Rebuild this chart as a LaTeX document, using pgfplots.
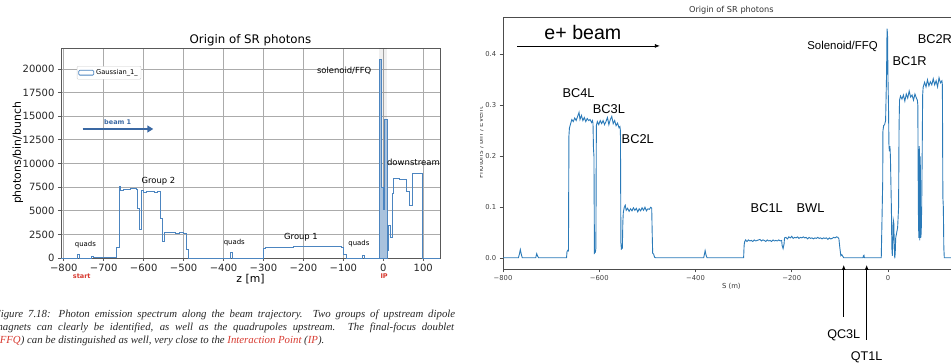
\documentclass[border=0pt]{standalone}
\usepackage{fontspec}
\setmainfont{DejaVu Sans}
\newfontfamily\arial{Liberation Sans}
\newfontfamily\capfont{Liberation Serif}
\usepackage{pgfplots}
\pgfplotsset{compat=1.18}
\usetikzlibrary{arrows.meta}
\definecolor{mplblue}{HTML}{2A7AB8}
\definecolor{histblue}{HTML}{4C85C0}
\definecolor{spikefill}{HTML}{A9C2DD}
\definecolor{beamblue}{HTML}{3A68A3}
\definecolor{linkred}{HTML}{D7392F}
\begin{document}
\begin{tikzpicture}
\useasboundingbox (0,0) rectangle (951pt,363pt);
\clip (0,0) rectangle (951pt,363pt);
% ---------------- left chart ----------------
\begin{axis}[
  at={(61pt,105pt)}, anchor=south west, scale only axis,
  width=379pt, height=210pt,
  xmin=-807, xmax=142, ymin=0, ymax=22220,
  scaled ticks=false,
  xtick={-800,-700,...,100},
  xticklabels={−800,−700,−600,−500,−400,−300,−200,−100,0,100},
  ytick={0,2500,...,20000},
  yticklabels={0,2500,5000,7500,10000,12500,15000,17500,20000},
  grid=major, grid style={color=black!33, line width=0.9pt},
  axis line style={black!65, line width=0.9pt},
  tick style={black!65, line width=0.8pt}, major tick length=3pt, tick align=outside,
  xtick pos=bottom, ytick pos=left,
  ticklabel style={font=\fontsize{10}{12}\selectfont, text=black!85},
  title={Origin of SR photons},
  title style={font=\fontsize{11.8}{13}\selectfont, at={(axis description cs:0.5,1)}, anchor=base, yshift=-2pt},
  xlabel={z [m]},
  xlabel style={font=\fontsize{10.8}{13}\selectfont, at={(axis description cs:0.5,0)}, anchor=base, yshift=-24.5pt},
  ylabel={photons/bin/bunch},
  ylabel style={font=\fontsize{10.9}{13}\selectfont, at={(axis description cs:-0.1135,0.5)}, anchor=center},
  clip=false,
  legend style={at={(axis description cs:0.042,0.914)}, anchor=north west,
    font=\fontsize{6.7}{8}\selectfont, draw=black!20, inner sep=1.2pt, rounded corners=1pt},
  legend image code/.code={\draw[#1] (0pt,-2.4pt) rectangle (15pt,2.4pt);},
]
\fill[black, opacity=0.06] (axis cs:-12,0) rectangle (axis cs:10,22220);
\addplot[const plot mark left, histblue, line width=0.8pt, forget plot] coordinates {
(-807,0) (-767,350) (-761,0) (-731,220) (-726,100) (-700,80) (-668,1100)
(-662,7550) (-658,7200) (-650,7250) (-640,7300) (-632,7400) (-626,7320) (-619,7250)
(-615,5300) (-611,3000) (-605,7100) (-600,6950) (-592,7000) (-582,7050) (-572,6980) (-566,7000)
(-559,4200) (-554,1800) (-549,2750) (-540,2700) (-530,2750) (-520,2650) (-510,2680) (-500,2600)
(-493,900) (-488,0) (-382,600) (-377,0)
(-300,1050) (-296,1100) (-280,1080) (-265,1120) (-250,1100) (-240,1150) (-225,1180) (-215,1250)
(-210,1200) (-195,1220) (-185,1270) (-178,1220) (-160,1230) (-145,1250) (-130,1200) (-115,1220)
(-104,1150) (-100,400) (-93,0) (-53,320) (-48,0)
(-10,21000) (-4,7500) (0,5200) (3,14700) (9,800) (13,3400) (18,2150) (22,6800)
(26,8450) (40,8350) (50,8300) (58,7050) (66,5600) (72,9000) (85,8950) (92,8900) (98,0) (142,0)
};
\addplot[const plot mark left, fill=spikefill, draw=histblue, line width=0.6pt, forget plot] coordinates {
(-10,21000) (-4,7500) (0,5200) (3,14700) (9,0)
} \closedcycle;
\addlegendimage{draw=histblue, fill=white, line width=0.8pt}
\addlegendentry{Gaussian\_1\_}
\draw[beamblue, line width=2.5pt, -{Triangle[length=6pt,width=7pt]}] (axis cs:-753,13650) -- (axis cs:-576,13650);
\node[beamblue, font=\fontsize{6.5}{8}\selectfont\bfseries] at (axis cs:-665,14390) {beam 1};
\node[font=\fontsize{6.9}{8}\selectfont] at (axis cs:-746,1376) {quads};
\node[font=\fontsize{6.9}{8}\selectfont] at (axis cs:-373,1587) {quads};
\node[font=\fontsize{6.9}{8}\selectfont] at (axis cs:-61,1481) {quads};
\node[font=\fontsize{8.4}{10}\selectfont] at (axis cs:-563,8148) {Group 2};
\node[font=\fontsize{8.4}{10}\selectfont] at (axis cs:-206,2222) {Group 1};
\node[font=\fontsize{8.4}{10}\selectfont] at (axis cs:-98,19788) {solenoid/FFQ};
\node[font=\fontsize{8.5}{10}\selectfont, anchor=west, inner sep=0pt] at (axis cs:9,10160) {downstream};
\node[linkred, font=\fontsize{6.5}{8}\selectfont\bfseries] at (axis cs:-755,-1900) {start};
\node[linkred, font=\fontsize{6.5}{8}\selectfont\bfseries] at (axis cs:2,-1900) {IP};
\end{axis}
% ---------------- right chart ----------------
\begin{scope}
\clip (480pt,0pt) rectangle (951pt,363pt);
\begin{axis}[
  at={(503pt,94pt)}, anchor=south west, scale only axis,
  width=456.7pt, height=252pt,
  xmin=-800, xmax=149, ymin=-0.021, ymax=0.473,
  scaled ticks=false,
  xtick={-800,-600,-400,-200,0}, xticklabels={−800,−600,−400,−200,0},
  ytick={0,0.1,0.2,0.3,0.4}, yticklabels={0.0,0.1,0.2,0.3,0.4},
  axis line style={black!70, line width=0.6pt},
  tick style={black!70, line width=0.6pt}, tick align=outside, major tick length=3.3pt,
  xtick pos=bottom, ytick pos=left,
  ticklabel style={font=\fontsize{6.8}{8}\selectfont, text=black!75},
  title={Origin of SR photons},
  title style={font=\fontsize{8.2}{10}\selectfont, text=black!80, at={(axis description cs:0.5,1)}, anchor=base, yshift=-1.7pt},
  xlabel={S (m)},
  xlabel style={font=\fontsize{6.9}{8}\selectfont, text=black!80, at={(axis description cs:0.5,0)}, anchor=base, yshift=-20pt},
  ylabel={Photons / bin / Event},
  ylabel style={font=\fontsize{6.9}{8}\selectfont, text=black!80, at={(axis description cs:-0.044,0.5)}, anchor=base},
  clip=false,
]
\addplot[mplblue, line width=0.9pt] coordinates {
(-800,0.001) (-768,0.001) (-766,0.008) (-764,0.017) (-762,0.008) (-760,0.001) (-732,0.001) (-730,0.009) (-728,0.004) (-726,0.001)
(-668,0.001) (-667,0.013) (-665,0.016) (-664,0.015) (-663,0.24) (-662,0.255) (-660,0.262) (-657,0.272) (-654,0.268) (-651,0.275)
(-648,0.27) (-645,0.278) (-642,0.286) (-640,0.272) (-637,0.28) (-634,0.27) (-631,0.276) (-628,0.268) (-625,0.274) (-622,0.27)
(-619,0.272) (-616,0.266) (-614,0.27) (-613,0.265) (-612,0.215) (-611,0.2) (-610,0.01) (-608,0.012) (-607,0.02) (-606,0.26)
(-604,0.268) (-601,0.262) (-598,0.27) (-595,0.264) (-592,0.27) (-589,0.262) (-586,0.268) (-583,0.276) (-580,0.262) (-577,0.272)
(-574,0.278) (-571,0.264) (-568,0.27) (-565,0.26) (-562,0.265) (-559,0.256) (-557,0.258) (-556,0.25) (-555,0.03) (-554,0.018)
(-552,0.02) (-551,0.07) (-550,0.09) (-548,0.1) (-546,0.104) (-544,0.094) (-541,0.098) (-538,0.092) (-535,0.097) (-532,0.093)
(-529,0.099) (-526,0.094) (-523,0.098) (-520,0.091) (-517,0.097) (-514,0.093) (-511,0.099) (-508,0.094) (-505,0.1) (-502,0.093)
(-499,0.097) (-496,0.096) (-493,0.1) (-491,0.098) (-490,0.05) (-489,0.01) (-487,0.008) (-485,0.002) (-483,0.001)
(-383,0.001) (-381,0.01) (-380,0.015) (-378,0.006) (-376,0.001)
(-300,0.001) (-299,0.025) (-298,0.032) (-296,0.036) (-293,0.033) (-290,0.036) (-287,0.034) (-284,0.035) (-281,0.033) (-278,0.036)
(-275,0.034) (-272,0.035) (-269,0.036) (-266,0.037) (-263,0.034) (-260,0.036) (-257,0.035) (-254,0.033) (-251,0.036) (-248,0.034)
(-245,0.035) (-242,0.033) (-239,0.036) (-236,0.034) (-233,0.035) (-230,0.034) (-227,0.036) (-224,0.034) (-221,0.035) (-220,0.025)
(-218,0.019) (-216,0.028) (-215,0.04) (-212,0.041) (-209,0.038) (-206,0.042) (-203,0.04) (-200,0.043) (-197,0.039) (-194,0.041)
(-191,0.04) (-188,0.042) (-185,0.039) (-182,0.041) (-179,0.04) (-176,0.042) (-173,0.04) (-170,0.041) (-167,0.038) (-164,0.041)
(-161,0.039) (-158,0.04) (-155,0.038) (-152,0.04) (-149,0.039) (-146,0.041) (-143,0.039) (-140,0.04) (-137,0.038) (-134,0.04)
(-131,0.039) (-128,0.04) (-125,0.037) (-122,0.04) (-119,0.038) (-116,0.039) (-113,0.041) (-110,0.04) (-107,0.042) (-104,0.041)
(-102,0.038) (-100,0.02) (-98,0.005) (-96,0.007) (-94,0.004) (-92,0.001) (-52,0.001) (-51,0.005) (-50,0.006) (-49,0.001)
(-14,0.001) (-12,0.1) (-11,0.15) (-10.5,0.25) (-9,0.26) (-7,0.262) (-5,0.27) (-3,0.36) (-2,0.45) (-1,0.44) (0,0.35) (1,0.3)
(2,0.22) (3,0.21) (4,0.22) (5,0.2) (6,0.15) (7,0.1) (8,0.02) (9,0.005) (10,0.03) (11,0.075) (12,0.07) (13,0.03) (14,0.0)
(15,0.01) (16,0.04) (18,0.05) (20,0.06) (22,0.1) (23,0.26) (24,0.31) (26,0.318) (29,0.312) (32,0.32) (35,0.308) (38,0.322)
(41,0.314) (44,0.328) (47,0.316) (50,0.32) (53,0.31) (56,0.322) (59,0.314) (61,0.31) (62,0.3) (63,0.1) (64,0.04) (65,0.22)
(66,0.035) (67,0.2) (68,0.04) (69,0.05) (70,0.1) (71,0.2) (72,0.32) (73,0.335) (76,0.345) (79,0.336) (82,0.35) (85,0.338)
(88,0.346) (91,0.34) (94,0.352) (97,0.34) (100,0.348) (103,0.336) (106,0.354) (109,0.344) (112,0.348) (113,0.34) (114,0.12)
(115,0.1) (116,0.02) (117,0.001) (149,0.001)
};
\node[font=\arial\fontsize{19.6}{22}\selectfont] at (axis cs:-634,0.4418) {e+ beam};
\draw[black, line width=0.8pt, -{Latex[length=5pt,width=4pt]}] (axis cs:-770,0.4163) -- (axis cs:-474,0.4163);
\node[font=\arial\fontsize{11.4}{13}\selectfont, anchor=east, inner sep=0pt] at (axis cs:-21,0.4143) {Solenoid/FFQ};
\node[font=\arial\fontsize{12.8}{14}\selectfont] at (axis cs:-643,0.324) {BC4L};
\node[font=\arial\fontsize{12.8}{14}\selectfont] at (axis cs:-580,0.2927) {BC3L};
\node[font=\arial\fontsize{12.8}{14}\selectfont] at (axis cs:-520,0.2339) {BC2L};
\node[font=\arial\fontsize{12.8}{14}\selectfont] at (axis cs:-252,0.0986) {BC1L};
\node[font=\arial\fontsize{12.8}{14}\selectfont] at (axis cs:-161,0.0986) {BWL};
\node[font=\arial\fontsize{12.8}{14}\selectfont] at (axis cs:45,0.3869) {BC1R};
\node[font=\arial\fontsize{12.8}{14}\selectfont, anchor=west, inner sep=0pt] at (axis cs:61.6,0.43) {BC2R};
\draw[black, line width=0.8pt, -{Latex[length=5pt,width=4pt]}] (axis cs:-92,-0.115) -- (axis cs:-92,-0.013);
\draw[black, line width=0.8pt, -{Latex[length=5pt,width=4pt]}] (axis cs:-44.3,-0.16) -- (axis cs:-44.3,-0.013);
\node[font=\arial\fontsize{12.6}{14}\selectfont] at (axis cs:-92,-0.150) {QC3L};
\node[font=\arial\fontsize{12.6}{14}\selectfont] at (axis cs:-44.3,-0.1935) {QT1L};
\end{axis}
\end{scope}
% ---------------- caption ----------------
\begin{scope}[font=\capfont\itshape\fontsize{10.8}{13}\selectfont, every node/.style={anchor=base west, inner sep=0pt, text=black!85}]
\node at (-6pt,45.3pt) {\makebox[461pt][s]{Figure 7.18: Photon emission spectrum along the beam trajectory. Two groups of upstream dipole}};
\node at (-5pt,32.3pt) {\makebox[459pt][s]{magnets can clearly be identified, as well as the quadrupoles upstream. The final-focus doublet}};
\node at (-4pt,19pt) {(\textcolor{linkred}{FFQ}) can be distinguished as well, very close to the \textcolor{linkred}{Interaction Point} (\textcolor{linkred}{IP}).};
\end{scope}
\end{tikzpicture}
\end{document}
